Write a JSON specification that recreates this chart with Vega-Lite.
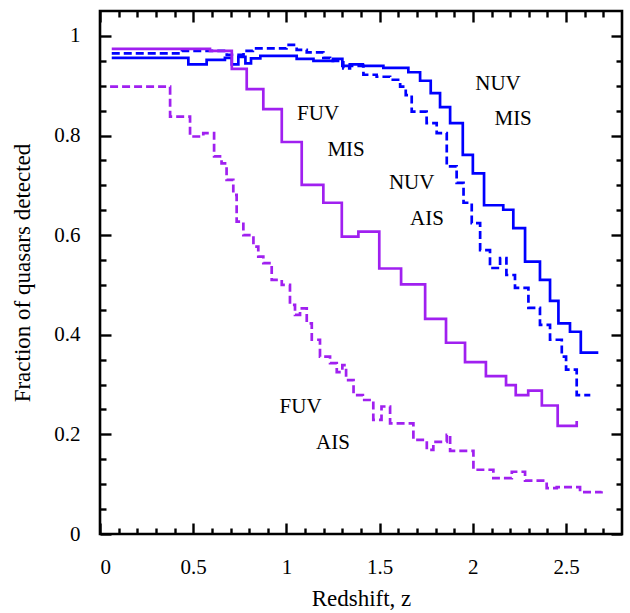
{
  "$schema": "https://vega.github.io/schema/vega-lite/v6.json",
  "width": 522,
  "height": 523,
  "autosize": {"type": "none"},
  "padding": {"left": 100, "top": 11, "right": 8, "bottom": 79},
  "background": "white",
  "config": {
    "view": {"stroke": "black", "strokeWidth": 2.6},
    "axis": {
      "grid": false,
      "domain": false,
      "ticks": true,
      "tickOpacity": 1,
      "tickColor": "#000000",
      "tickWidth": 2.4,
      "labelFont": "Liberation Serif",
      "labelFontSize": 21,
      "labelColor": "black",
      "titleFont": "Liberation Serif",
      "titleFontSize": 23,
      "titleFontWeight": "normal",
      "titleColor": "black"
    }
  },
  "datasets": {
    "curves": [
      {"s": "NUV MIS", "z": 0.063, "f": 0.956},
      {"s": "NUV MIS", "z": 0.474, "f": 0.943},
      {"s": "NUV MIS", "z": 0.572, "f": 0.952},
      {"s": "NUV MIS", "z": 0.67, "f": 0.956},
      {"s": "NUV MIS", "z": 0.707, "f": 0.943},
      {"s": "NUV MIS", "z": 0.742, "f": 0.958},
      {"s": "NUV MIS", "z": 0.78, "f": 0.945},
      {"s": "NUV MIS", "z": 0.81, "f": 0.955},
      {"s": "NUV MIS", "z": 0.86, "f": 0.96},
      {"s": "NUV MIS", "z": 1.055, "f": 0.954},
      {"s": "NUV MIS", "z": 1.145, "f": 0.95},
      {"s": "NUV MIS", "z": 1.25, "f": 0.954},
      {"s": "NUV MIS", "z": 1.3, "f": 0.94},
      {"s": "NUV MIS", "z": 1.34, "f": 0.943},
      {"s": "NUV MIS", "z": 1.41, "f": 0.94},
      {"s": "NUV MIS", "z": 1.52, "f": 0.936},
      {"s": "NUV MIS", "z": 1.654, "f": 0.927},
      {"s": "NUV MIS", "z": 1.717, "f": 0.91},
      {"s": "NUV MIS", "z": 1.774, "f": 0.885},
      {"s": "NUV MIS", "z": 1.824, "f": 0.857},
      {"s": "NUV MIS", "z": 1.878, "f": 0.825},
      {"s": "NUV MIS", "z": 1.946, "f": 0.761},
      {"s": "NUV MIS", "z": 2.0, "f": 0.724},
      {"s": "NUV MIS", "z": 2.06, "f": 0.66},
      {"s": "NUV MIS", "z": 2.163, "f": 0.651},
      {"s": "NUV MIS", "z": 2.217, "f": 0.614},
      {"s": "NUV MIS", "z": 2.28, "f": 0.547},
      {"s": "NUV MIS", "z": 2.36, "f": 0.51},
      {"s": "NUV MIS", "z": 2.414, "f": 0.468},
      {"s": "NUV MIS", "z": 2.459, "f": 0.423},
      {"s": "NUV MIS", "z": 2.521, "f": 0.406},
      {"s": "NUV MIS", "z": 2.579, "f": 0.364},
      {"s": "NUV MIS", "z": 2.673, "f": 0.364},

      {"s": "NUV AIS", "z": 0.063, "f": 0.965},
      {"s": "NUV AIS", "z": 0.44, "f": 0.97},
      {"s": "NUV AIS", "z": 0.68, "f": 0.962},
      {"s": "NUV AIS", "z": 0.77, "f": 0.97},
      {"s": "NUV AIS", "z": 0.82, "f": 0.975},
      {"s": "NUV AIS", "z": 1.0, "f": 0.982},
      {"s": "NUV AIS", "z": 1.055, "f": 0.972},
      {"s": "NUV AIS", "z": 1.109, "f": 0.967},
      {"s": "NUV AIS", "z": 1.198, "f": 0.956},
      {"s": "NUV AIS", "z": 1.234, "f": 0.95},
      {"s": "NUV AIS", "z": 1.305, "f": 0.935},
      {"s": "NUV AIS", "z": 1.341, "f": 0.94},
      {"s": "NUV AIS", "z": 1.413, "f": 0.922},
      {"s": "NUV AIS", "z": 1.484, "f": 0.918},
      {"s": "NUV AIS", "z": 1.556, "f": 0.912},
      {"s": "NUV AIS", "z": 1.61, "f": 0.898},
      {"s": "NUV AIS", "z": 1.64, "f": 0.881},
      {"s": "NUV AIS", "z": 1.672, "f": 0.848},
      {"s": "NUV AIS", "z": 1.752, "f": 0.825},
      {"s": "NUV AIS", "z": 1.806, "f": 0.805},
      {"s": "NUV AIS", "z": 1.86, "f": 0.738},
      {"s": "NUV AIS", "z": 1.913, "f": 0.705},
      {"s": "NUV AIS", "z": 1.95, "f": 0.665},
      {"s": "NUV AIS", "z": 1.994, "f": 0.624},
      {"s": "NUV AIS", "z": 2.039, "f": 0.57},
      {"s": "NUV AIS", "z": 2.092, "f": 0.534},
      {"s": "NUV AIS", "z": 2.146, "f": 0.554},
      {"s": "NUV AIS", "z": 2.18, "f": 0.52},
      {"s": "NUV AIS", "z": 2.226, "f": 0.494},
      {"s": "NUV AIS", "z": 2.298, "f": 0.454},
      {"s": "NUV AIS", "z": 2.36, "f": 0.42},
      {"s": "NUV AIS", "z": 2.414, "f": 0.39},
      {"s": "NUV AIS", "z": 2.477, "f": 0.356},
      {"s": "NUV AIS", "z": 2.5, "f": 0.33},
      {"s": "NUV AIS", "z": 2.557, "f": 0.279},
      {"s": "NUV AIS", "z": 2.63, "f": 0.279},

      {"s": "FUV MIS", "z": 0.063, "f": 0.974},
      {"s": "FUV MIS", "z": 0.59, "f": 0.97},
      {"s": "FUV MIS", "z": 0.707, "f": 0.934},
      {"s": "FUV MIS", "z": 0.787, "f": 0.893},
      {"s": "FUV MIS", "z": 0.876, "f": 0.853},
      {"s": "FUV MIS", "z": 0.975, "f": 0.787},
      {"s": "FUV MIS", "z": 1.082, "f": 0.701},
      {"s": "FUV MIS", "z": 1.198, "f": 0.665},
      {"s": "FUV MIS", "z": 1.297, "f": 0.597},
      {"s": "FUV MIS", "z": 1.386, "f": 0.607},
      {"s": "FUV MIS", "z": 1.498, "f": 0.533},
      {"s": "FUV MIS", "z": 1.615, "f": 0.501},
      {"s": "FUV MIS", "z": 1.744, "f": 0.432},
      {"s": "FUV MIS", "z": 1.856, "f": 0.384},
      {"s": "FUV MIS", "z": 1.958, "f": 0.345},
      {"s": "FUV MIS", "z": 2.07, "f": 0.317},
      {"s": "FUV MIS", "z": 2.178, "f": 0.299},
      {"s": "FUV MIS", "z": 2.23, "f": 0.279},
      {"s": "FUV MIS", "z": 2.297, "f": 0.288},
      {"s": "FUV MIS", "z": 2.37, "f": 0.258},
      {"s": "FUV MIS", "z": 2.455, "f": 0.217},
      {"s": "FUV MIS", "z": 2.557, "f": 0.227},

      {"s": "FUV AIS", "z": 0.054, "f": 0.898},
      {"s": "FUV AIS", "z": 0.376, "f": 0.838},
      {"s": "FUV AIS", "z": 0.483, "f": 0.798},
      {"s": "FUV AIS", "z": 0.554, "f": 0.805},
      {"s": "FUV AIS", "z": 0.612, "f": 0.758},
      {"s": "FUV AIS", "z": 0.652, "f": 0.744},
      {"s": "FUV AIS", "z": 0.679, "f": 0.711},
      {"s": "FUV AIS", "z": 0.715, "f": 0.681},
      {"s": "FUV AIS", "z": 0.733, "f": 0.627},
      {"s": "FUV AIS", "z": 0.769, "f": 0.6},
      {"s": "FUV AIS", "z": 0.823, "f": 0.577},
      {"s": "FUV AIS", "z": 0.849, "f": 0.557},
      {"s": "FUV AIS", "z": 0.876, "f": 0.544},
      {"s": "FUV AIS", "z": 0.921, "f": 0.51},
      {"s": "FUV AIS", "z": 0.975, "f": 0.5},
      {"s": "FUV AIS", "z": 1.019, "f": 0.46},
      {"s": "FUV AIS", "z": 1.046, "f": 0.44},
      {"s": "FUV AIS", "z": 1.073, "f": 0.453},
      {"s": "FUV AIS", "z": 1.109, "f": 0.423},
      {"s": "FUV AIS", "z": 1.136, "f": 0.39},
      {"s": "FUV AIS", "z": 1.18, "f": 0.356},
      {"s": "FUV AIS", "z": 1.234, "f": 0.343},
      {"s": "FUV AIS", "z": 1.27, "f": 0.325},
      {"s": "FUV AIS", "z": 1.3, "f": 0.339},
      {"s": "FUV AIS", "z": 1.32, "f": 0.309},
      {"s": "FUV AIS", "z": 1.36, "f": 0.279},
      {"s": "FUV AIS", "z": 1.41, "f": 0.269},
      {"s": "FUV AIS", "z": 1.466, "f": 0.229},
      {"s": "FUV AIS", "z": 1.51, "f": 0.256},
      {"s": "FUV AIS", "z": 1.556, "f": 0.222},
      {"s": "FUV AIS", "z": 1.681, "f": 0.189},
      {"s": "FUV AIS", "z": 1.753, "f": 0.169},
      {"s": "FUV AIS", "z": 1.788, "f": 0.185},
      {"s": "FUV AIS", "z": 1.86, "f": 0.199},
      {"s": "FUV AIS", "z": 1.878, "f": 0.167},
      {"s": "FUV AIS", "z": 2.003, "f": 0.129},
      {"s": "FUV AIS", "z": 2.11, "f": 0.112},
      {"s": "FUV AIS", "z": 2.209, "f": 0.125},
      {"s": "FUV AIS", "z": 2.28, "f": 0.107},
      {"s": "FUV AIS", "z": 2.396, "f": 0.092},
      {"s": "FUV AIS", "z": 2.45, "f": 0.094},
      {"s": "FUV AIS", "z": 2.575, "f": 0.084},
      {"s": "FUV AIS", "z": 2.69, "f": 0.086}
    ],
    "notes": [
      {"t": "FUV", "z": 1.17, "f": 0.843},
      {"t": "MIS", "z": 1.32, "f": 0.771},
      {"t": "NUV", "z": 2.135, "f": 0.904},
      {"t": "MIS", "z": 2.216, "f": 0.833},
      {"t": "NUV", "z": 1.672, "f": 0.705},
      {"t": "AIS", "z": 1.754, "f": 0.633},
      {"t": "FUV", "z": 1.076, "f": 0.254},
      {"t": "AIS", "z": 1.25, "f": 0.183}
    ]
  },
  "resolve": {"axis": {"x": "independent", "y": "independent"}},
  "layer": [
    {
      "data": {"name": "curves"},
      "mark": {"type": "line", "interpolate": "step-after", "strokeWidth": 2.7, "strokeCap": "butt", "strokeJoin": "miter"},
      "encoding": {
        "x": {
          "field": "z", "type": "quantitative",
          "scale": {"domain": [0, 2.8], "nice": false, "zero": false},
          "axis": {"orient": "bottom", "values": [0, 0.5, 1, 1.5, 2, 2.5], "format": "~g", "tickSize": -11, "labelPadding": 33, "title": "Redshift, z", "titlePadding": 10}
        },
        "y": {
          "field": "f", "type": "quantitative",
          "scale": {"domain": [0, 1.05], "nice": false, "zero": false},
          "axis": {"orient": "left", "values": [0, 0.2, 0.4, 0.6, 0.8, 1], "format": "~g", "tickSize": -11, "labelPadding": 31, "title": "Fraction of quasars detected", "titlePadding": 19}
        },
        "color": {
          "field": "s", "type": "nominal",
          "scale": {"domain": ["NUV MIS", "NUV AIS", "FUV MIS", "FUV AIS"], "range": ["#0000ff", "#0000ff", "#a020f0", "#a020f0"]},
          "legend": null
        },
        "strokeDash": {
          "field": "s", "type": "nominal",
          "scale": {"domain": ["NUV MIS", "NUV AIS", "FUV MIS", "FUV AIS"], "range": [[1, 0], [8, 4], [1, 0], [8, 4]]},
          "legend": null
        }
      }
    },
    {
      "data": {"name": "notes"},
      "mark": {"type": "text", "font": "Liberation Serif", "fontSize": 21, "color": "black", "align": "center", "baseline": "middle"},
      "encoding": {
        "x": {"field": "z", "type": "quantitative", "axis": null},
        "y": {"field": "f", "type": "quantitative", "axis": null},
        "text": {"field": "t", "type": "nominal"}
      }
    },
    {
      "data": {"name": "curves"},
      "mark": {"type": "point", "opacity": 0},
      "encoding": {
        "x": {"field": "z", "type": "quantitative", "axis": {"orient": "top", "values": [0, 0.5, 1, 1.5, 2, 2.5], "labels": false, "tickSize": -11, "title": null}},
        "y": {"field": "f", "type": "quantitative", "axis": {"orient": "right", "values": [0, 0.2, 0.4, 0.6, 0.8, 1], "labels": false, "tickSize": -11, "title": null}}
      }
    },
    {
      "data": {"name": "curves"},
      "mark": {"type": "point", "opacity": 0},
      "encoding": {
        "x": {"field": "z", "type": "quantitative", "axis": {"orient": "bottom", "values": [0.1, 0.2, 0.3, 0.4, 0.6, 0.7, 0.8, 0.9, 1.1, 1.2, 1.3, 1.4, 1.6, 1.7, 1.8, 1.9, 2.1, 2.2, 2.3, 2.4, 2.6, 2.7], "labels": false, "tickSize": -6, "title": null}},
        "y": {"field": "f", "type": "quantitative", "axis": {"orient": "left", "values": [0.05, 0.1, 0.15, 0.25, 0.3, 0.35, 0.45, 0.5, 0.55, 0.65, 0.7, 0.75, 0.85, 0.9, 0.95], "labels": false, "tickSize": -6, "title": null}}
      }
    },
    {
      "data": {"name": "curves"},
      "mark": {"type": "point", "opacity": 0},
      "encoding": {
        "x": {"field": "z", "type": "quantitative", "axis": {"orient": "top", "values": [0.1, 0.2, 0.3, 0.4, 0.6, 0.7, 0.8, 0.9, 1.1, 1.2, 1.3, 1.4, 1.6, 1.7, 1.8, 1.9, 2.1, 2.2, 2.3, 2.4, 2.6, 2.7], "labels": false, "tickSize": -6, "title": null}},
        "y": {"field": "f", "type": "quantitative", "axis": {"orient": "right", "values": [0.05, 0.1, 0.15, 0.25, 0.3, 0.35, 0.45, 0.5, 0.55, 0.65, 0.7, 0.75, 0.85, 0.9, 0.95], "labels": false, "tickSize": -6, "title": null}}
      }
    }
  ]
}
